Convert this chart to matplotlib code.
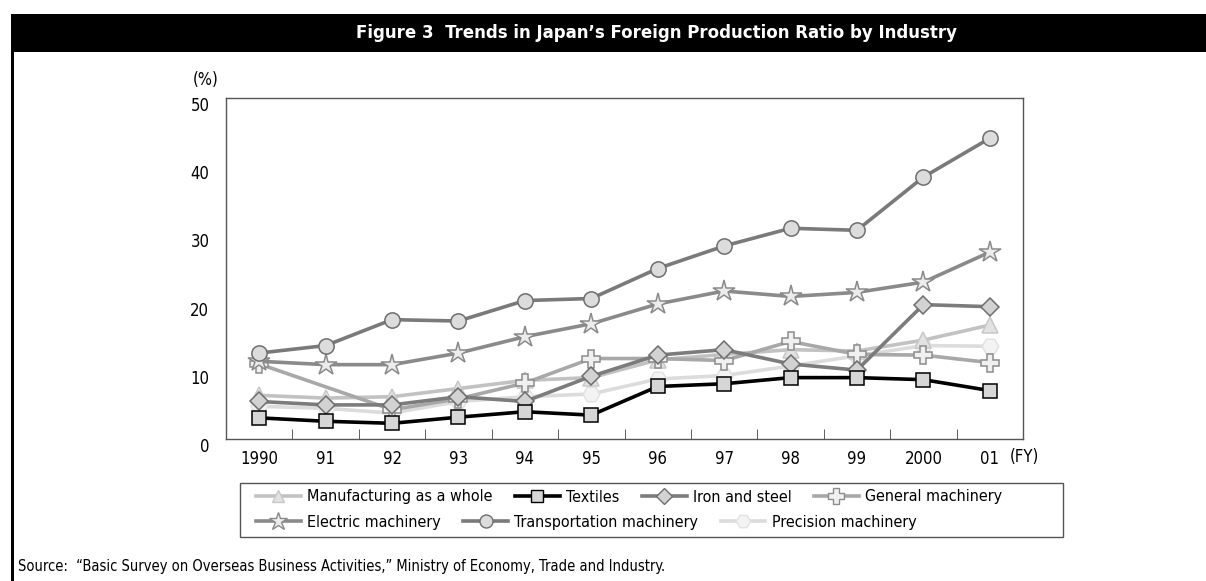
import numpy as np
import matplotlib
matplotlib.use('Agg')
import matplotlib.pyplot as plt
import matplotlib.transforms as mtransforms
from matplotlib.patches import Rectangle
from matplotlib.lines import Line2D

plt.rcParams['font.family'] = ['DejaVu Sans']
plt.rcParams['font.stretch'] = 'condensed'

years = ['1990', '91', '92', '93', '94', '95', '96', '97', '98', '99', '2000', '01']

manufacturing = [6.4, 6.0, 6.2, 7.4, 8.6, 9.0, 11.6, 12.4, 13.1, 12.9, 14.5, 16.7]
textiles = [3.1, 2.6, 2.3, 3.2, 4.0, 3.5, 7.7, 8.1, 9.0, 9.0, 8.7, 7.1]
iron_steel = [5.5, 5.0, 5.0, 6.2, 5.5, 9.2, 12.3, 13.1, 11.0, 10.1, 19.7, 19.4]
general = [11.0, np.nan, 4.3, 5.9, 8.2, 11.8, 11.8, 11.5, 14.3, 12.4, 12.3, 11.2]
electric = [11.4, 10.9, 10.9, 12.6, 15.0, 16.9, 19.8, 21.7, 20.9, 21.5, 23.0, 27.4]
transport = [12.6, 13.7, 17.5, 17.3, 20.3, 20.6, 25.0, 28.3, 30.9, 30.6, 38.4, 44.1]
precision = [4.8, 4.5, 3.8, 5.5, 6.2, 6.6, 8.8, 9.3, 10.7, 12.2, 13.7, 13.6]

fig = plt.figure(figsize=(12.06, 5.81), dpi=100)

# title bar and left border
fig.patches.append(Rectangle((11 / 1206, 1 - 52 / 581), 1, 38 / 581, transform=fig.transFigure,
                             facecolor='black', edgecolor='none', zorder=0))
fig.patches.append(Rectangle((11 / 1206, 0), 3 / 1206, 1 - 52 / 581, transform=fig.transFigure,
                             facecolor='black', edgecolor='none', zorder=0))
fig.text(656 / 1206, 1 - 33 / 581, 'Figure 3  Trends in Japan\u2019s Foreign Production Ratio by Industry',
         color='white', fontsize=13.3, fontweight='bold', ha='center', va='center')

ax = fig.add_axes([226 / 1206, 1 - 439 / 581, 797 / 1206, 341 / 581])
x = np.arange(len(years))

# (values, label, line colour, marker, size, face, edge)
series = [
    (precision, 'Precision machinery', '#dcdcdc', 'H', 12, '#f3f3f3', '#e2e2e2'),
    (manufacturing, 'Manufacturing as a whole', '#c2c2c2', '^', 11, '#e2e2e2', '#c8c8c8'),
    (general, 'General machinery', '#a8a8a8', 'P', 13, '#f0f0f0', '#8c8c8c'),
    (iron_steel, 'Iron and steel', '#7c7c7c', 'D', 9, '#d2d2d2', '#6e6e6e'),
    (electric, 'Electric machinery', '#8a8a8a', '*', 16, '#ececec', '#8a8a8a'),
    (transport, 'Transportation machinery', '#7a7a7a', 'o', 11, '#dcdcdc', '#6e6e6e'),
    (textiles, 'Textiles', '#000000', 's', 10, '#d6d6d6', '#000000'),
]

handles = {}
for vals, label, lc, mk, ms, fc, ec in series:
    v = np.array(vals, dtype=float)
    ok = ~np.isnan(v)
    ax.plot(x[ok], v[ok], color=lc, lw=2.6, marker=mk, markersize=ms,
            markerfacecolor=fc, markeredgecolor=ec, markeredgewidth=1.1)
    handles[label] = Line2D([], [], color=lc, lw=2.6, marker=mk, markersize=ms * 0.85,
                            markerfacecolor=fc, markeredgecolor=ec, markeredgewidth=1.0)

ax.set_xlim(-0.5, len(years) - 0.5)
ax.set_ylim(0, 50)
ax.set_yticks(range(0, 51, 10))
ax.tick_params(axis='y', length=0, pad=12, labelsize=12)
ax.set_xticks(x)
ax.set_xticklabels(years)
ax.tick_params(axis='x', which='major', length=0, pad=8, labelsize=12)
ax.set_xticks(np.arange(0.5, len(years) - 1, 1), minor=True)
ax.tick_params(axis='x', which='minor', direction='in', length=7, color='#444444')
offset = mtransforms.ScaledTranslation(0, -6 / 100, fig.dpi_scale_trans)
for lbl in ax.get_yticklabels():
    lbl.set_transform(lbl.get_transform() + offset)
for s in ax.spines.values():
    s.set_color('#555555')
    s.set_linewidth(1.0)

fig.text(206 / 1206, 1 - 80 / 581, '(%)', fontsize=12, ha='center', va='center')
fig.text(1024 / 1206, 1 - 457 / 581, '(FY)', fontsize=12, ha='center', va='center')

# legend box with two flowing rows
fig.patches.append(Rectangle((240 / 1206, 1 - 537 / 581), 823 / 1206, 54 / 581, transform=fig.transFigure,
                             facecolor='white', edgecolor='#555555', lw=1.0, zorder=1))
row1 = ['Manufacturing as a whole', 'Textiles', 'Iron and steel', 'General machinery']
row2 = ['Electric machinery', 'Transportation machinery', 'Precision machinery']
for row, yc in [(row1, 497), (row2, 522)]:
    fig.legend([handles[r] for r in row], row, loc='center left',
               bbox_to_anchor=(256 / 1206, 1 - yc / 581), ncol=len(row), frameon=False,
               fontsize=11.5, handlelength=2.8, handletextpad=0.4, columnspacing=1.4,
               borderpad=0, borderaxespad=0, numpoints=1)

fig.text(18 / 1206, 1 - 567 / 581,
         'Source:  \u201cBasic Survey on Overseas Business Activities,\u201d Ministry of Economy, Trade and Industry.',
         fontsize=10.5, ha='left', va='center')

fig.savefig('out.png', dpi=100)
